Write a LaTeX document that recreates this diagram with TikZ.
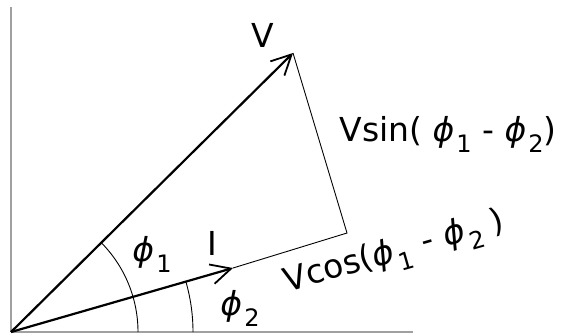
\documentclass[tikz,border=0pt]{standalone}
\usepackage{fontspec}
\setmainfont{DejaVu Sans}
\usepackage{tikz}
\usetikzlibrary{arrows.meta, positioning, calc}
\definecolor{axisc}{HTML}{A0A0A0}
\definecolor{inkOne}{HTML}{000000}
\tikzset{
  axis/.style={draw=axisc, line width=1.2pt},
  vec/.style={-{Straight Barb[length=10pt, width=10pt, line width=0.9pt]}, draw=inkOne, line width=1.1pt},
  thin/.style={draw=inkOne, line width=0.45pt},
  lbl/.style={font=\fontsize{16.5}{19}\selectfont, text=inkOne, inner sep=0pt},
}
\newcommand{\ph}[1]{{\itshape ϕ}\kern1pt\raisebox{-5.5pt}{\fontsize{12}{13}\selectfont #1}}
\begin{document}
\begin{tikzpicture}[x=0.5pt, y=-0.5pt]
  \useasboundingbox (0,0) rectangle (567,334);
  % points
  \coordinate (O) at (11,332);
  \coordinate (vtip) at (293,53);
  \coordinate (itip) at (233,268);
  \coordinate (foot) at (347,233);
  \coordinate (ytop) at (11,7);
  \coordinate (xend) at (413,332);
  % axes
  \draw[axis] (O) -- (ytop);
  \draw[axis] (O) -- (xend);
  % angles
  \draw[thin] ($(O)+(127,0)$) arc[start angle=0, end angle=44.6, x radius=127, y radius=-127];
  \draw[thin] ($(O)+(182,0)$) arc[start angle=0, end angle=16, x radius=182, y radius=-182];
  % projection of V on I
  \draw[thin] (itip) -- (foot) -- (vtip);
  % phasors
  \draw[vec] (O) -- (vtip);
  \draw[vec] (O) -- (itip);
  % labels
  \node[lbl] (vlab) at (263,35) {V};
  \node[lbl] (ilab) at (212,243) {I};
  \node[lbl] (phione) at (152,254) {\ph{1}};
  \node[lbl] (phitwo) at (240,308) {\ph{2}};
  \node[lbl] (vsin) at (448,134) {Vsin( \ph{1} - \ph{2})};
  \node[lbl, rotate=16] (vcos) at (395,254) {Vcos(\ph{1} \kern1pt- \ph{2} )};
\end{tikzpicture}
\end{document}
